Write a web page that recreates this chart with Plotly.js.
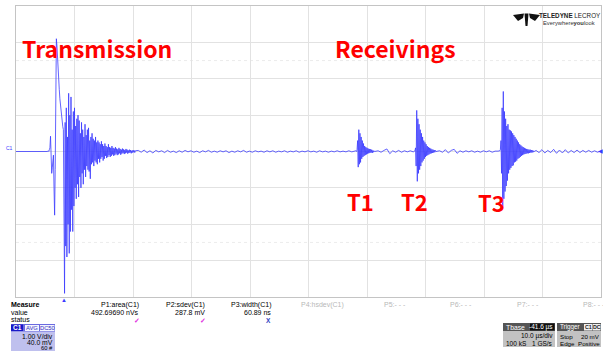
<!DOCTYPE html>
<html>
<head>
<meta charset="utf-8">
<script src="https://cdn.plot.ly/plotly-3.0.1.min.js"></script>
<style>
html,body{margin:0;padding:0;background:#fff;}
#chart{width:603px;height:351px;}
</style>
</head>
<body>
<div id="chart"></div>
<script>
// ---- Data (time in µs, voltage in V) ----
// Each record: start time, sampling step, sampled voltages
const preStart = -8.4, preStep = 0.6;
const preV = [0, 0, 0.01, 0, -0.01, 0, 0.01, 0, 0];

const burstStart = -3.0, burstStep = 0.1;
const burstV = [
  0, 0.02, 0, 0.05, 0.1, 0.42, -0.2, -0.6, -0.45, -0.3,
  -0.1, -1.0, -1.75, -0.5, 1.5, 3.1, 2.9, 2.5, 2.2, 1.95,
  1.7, 1.45, 1.25, 1.05, 0.9, 0.78, 0.68, 0.6, -1.5, -3.9,
  0.8, -2.6, 1.2, -2.9, 0.4, -2.0, 1.6, -2.8, 1.0, -2.2,
  1.5, -1.6, 0.6, -2.2, 1.1, -1.5, 1.2, -1.0, 0.7, -1.3,
  0.9, -0.9, 1.0, -1.25, 0.85, -0.7, 0.5, -1.0, 0.8, -0.6,
  0.6, -0.9, 0.4, -0.5, 0.75, -0.7, 0.45, -0.4, 0.6, -0.5,
  0.65, -0.55, 0.3, -0.75, 0.4, -0.35, 0.5, -0.3, 0.35, -0.4,
  0.3, -0.25, 0.4, -0.3, 0.25, -0.35, 0.3, -0.2, 0.25, -0.3,
  0.2, -0.2, 0.28, -0.15, 0.2, -0.25, 0.15, -0.2, 0.22, -0.12,
  0.15, -0.18, 0.12, -0.15, 0.2, -0.1, 0.12, -0.15, 0.1, -0.12,
  0.15, -0.08, 0.1, -0.12, 0.08, -0.1, 0.12, -0.06, 0.08, -0.1,
  0.06, -0.08, 0.1, -0.05, 0.07, -0.09, 0.05, -0.06, 0.08, -0.04,
  0.06, -0.07, 0.04, -0.05, 0.07, -0.03, 0.05, -0.06, 0.03, -0.04,
  0.05, -0.03, 0.04, -0.05, 0.02, -0.03, 0.04, -0.02, 0.03, -0.03,
  0.02
];

const quiet1Start = 12.5, quiet1Step = 0.5;
const quiet1V = [
  0.03, -0.02, 0.04, -0.03, 0.02, -0.04, 0.03, -0.01, 0.02, -0.03,
  0.03, -0.02, 0.01, -0.03, 0.02, -0.02, 0.03, -0.01, 0.02, -0.02,
  0.01, -0.03, 0.02, -0.01, 0.03, -0.02, 0.01, -0.02, 0.02, -0.01,
  0.02, -0.03, 0.01, -0.02, 0.02, -0.01, 0.03, -0.02, 0.01, -0.02,
  0.02, -0.01, 0.01, -0.02, 0.02, -0.01, 0.02, -0.02, 0.01, -0.01,
  0.02, -0.02, 0.01, -0.01, 0.02, -0.02, 0.01, -0.01, 0.02, -0.01,
  0.01, -0.02, 0.02, -0.01, 0.01, -0.02, 0.01, -0.01, 0.02, -0.01,
  0.01, -0.01, 0.02, -0.01, 0.01
];

const t1Start = 49.6, t1Step = 0.1;
const t1V = [
  0.01, 0.02, 0.0, 0.05, 0.3, -0.43, 0.6, -0.35, 0.5, -0.3,
  0.4, -0.2, 0.3, -0.15, 0.22, -0.12, 0.15, -0.1, 0.12, -0.08,
  0.1, -0.06, 0.08, -0.05, 0.07, -0.04, 0.06, -0.03, 0.05, -0.04,
  0.03, -0.02, 0.02, 0.0
];

const quiet2Start = 53.5, quiet2Step = 0.5;
const quiet2V = [0.02, -0.02, 0.03, 0.07, -0.06, 0.02, -0.02, 0.03, -0.02, 0.02, -0.01, 0.02, -0.01];

const t2Start = 59.7, t2Step = 0.1;
const t2V = [
  0.01, 0.02, 0.1, -0.4, 1.13, -0.82, 0.9, -0.6, 0.75, -0.5,
  0.6, -0.4, 0.5, -0.3, 0.4, -0.25, 0.3, -0.2, 0.25, -0.15,
  0.2, -0.12, 0.15, -0.1, 0.12, -0.08, 0.1, -0.06, 0.08, -0.05,
  0.06, -0.04, 0.05, -0.03, 0.04, -0.02, 0.03, 0.0
];

const quiet3Start = 64.0, quiet3Step = 0.5;
const quiet3V = [0.02, -0.02, 0.05, -0.04, 0.03, 0.06, -0.05, 0.02, -0.02, 0.02, -0.01, 0.02, -0.02, 0.01, -0.02, 0.02, -0.01, 0.02, -0.02, 0.01, 0.01];

const t3Start = 74.3, t3Step = 0.1;
const t3V = [
  0.02, 0.05, 0.3, -0.6, 1.2, -1.57, 1.65, -1.3, 1.1, -1.1,
  0.9, -0.95, 0.7, -0.8, 0.75, -0.6, 0.6, -0.5, 0.58, -0.45,
  0.55, -0.4, 0.5, -0.38, 0.45, -0.3, 0.4, -0.28, 0.35, -0.25,
  0.3, -0.2, 0.25, -0.18, 0.2, -0.15, 0.17, -0.12, 0.14, -0.1,
  0.12, -0.08, 0.1, -0.07, 0.08, -0.06, 0.07, -0.05, 0.06, -0.05,
  0.05, -0.04, 0.05, -0.03, 0.04, -0.03, 0.03, -0.02, 0.02, 0.0
];

const quiet4Start = 80.5, quiet4Step = 0.5;
const quiet4V = [0.03, -0.03, 0.05, -0.04, 0.03, -0.03, 0.06, -0.05, 0.04, -0.04, 0.05, -0.04, 0.03, -0.03, 0.04, -0.03, 0.03, -0.02, 0.03, -0.02, 0.02, -0.02, 0.01];

const timeRange = [-8.4, 91.6];   // 10 µs/div, Tbase -41.6 µs
const voltRange = [-4, 4];        // 1.00 V/div

const measureNames = ["P1:area(C1)", "P2:sdev(C1)", "P3:width(C1)"];
const measureValues = ["492.69690 nVs", "287.8 mV", "60.89 ns"];
const emptyParams = ["P4:hsdev(C1)", "P5:- - -", "P6:- - -", "P7:- - -", "P8:- - -"];

// ---- build trace ----
const segments = [
  [preStart, preStep, preV], [burstStart, burstStep, burstV],
  [quiet1Start, quiet1Step, quiet1V], [t1Start, t1Step, t1V],
  [quiet2Start, quiet2Step, quiet2V], [t2Start, t2Step, t2V],
  [quiet3Start, quiet3Step, quiet3V], [t3Start, t3Step, t3V],
  [quiet4Start, quiet4Step, quiet4V]
];
const tx = [], vy = [];
segments.forEach(([t0, dt, vals]) => {
  vals.forEach((v, i) => { tx.push(+(t0 + i * dt).toFixed(3)); vy.push(v); });
});

// ---- layout helpers (pixel -> paper) ----
const W = 603, H = 351, ML = 16, MR = 2, MT = 6, MB = 54;
const PW = W - ML - MR, PH = H - MT - MB;
const px = x => (x - ML) / PW;
const py = y => (H - MB - y) / PH;

const annotations = [];
function txt(text, x, y, o) {
  o = o || {};
  annotations.push({
    text: text, xref: 'paper', yref: 'paper', x: px(x), y: py(y),
    xanchor: o.xa || 'left', yanchor: 'middle', showarrow: false,
    font: {family: o.family || 'Liberation Sans, Arial, sans-serif', size: o.size || 7,
           color: o.color || '#000', weight: o.weight || 'normal'},
    borderpad: 0
  });
}
const shapes = [];
function rect(x0, y0, x1, y1, fill, line) {
  shapes.push({type: 'rect', xref: 'paper', yref: 'paper', x0: px(x0), x1: px(x1), y0: py(y1), y1: py(y0),
               fillcolor: fill, line: {width: line ? 1 : 0, color: line || fill}, layer: 'above'});
}
function poly(pts, fill) {
  const d = pts.map((p, i) => (i ? 'L' : 'M') + px(p[0]) + ',' + py(p[1])).join(' ') + ' Z';
  shapes.push({type: 'path', xref: 'paper', yref: 'paper', path: d, fillcolor: fill, line: {width: 0}, layer: 'above'});
}

// faint dotted rows at +/-2.5 div
[2.5, -2.5].forEach(v => shapes.push({type: 'line', xref: 'paper', yref: 'y', x0: 0, x1: 1, y0: v, y1: v,
  line: {color: '#ececec', width: 1, dash: 'dot'}, layer: 'below'}));

// big red labels
const red = '#ff0000';
const big = 'Noto Sans CJK KR, Noto Sans, sans-serif';
txt('Transmission', 97, 47.5, {xa: 'center', size: 23, color: red, weight: 'bold', family: big});
txt('Receivings', 395, 47.5, {xa: 'center', size: 23, color: red, weight: 'bold', family: big});
txt('T1', 360.5, 200.5, {xa: 'center', size: 22, color: red, weight: 'bold', family: big});
txt('T2', 414, 200.5, {xa: 'center', size: 22, color: red, weight: 'bold', family: big});
txt('T3', 491.5, 201.5, {xa: 'center', size: 22, color: red, weight: 'bold', family: big});

// logo
poly([[513, 15], [524, 13.5], [523, 18], [518, 21]], '#111');
poly([[540, 15], [529, 13.5], [530, 18], [535, 21]], '#111');
poly([[524.5, 13.5], [528.5, 13.5], [527.5, 26], [525.5, 26]], '#111');
txt('<b>TELEDYNE</b> LECROY', 569.5, 16, {xa: 'center', size: 6.3, color: '#222'});
txt('Everywhere<b>you</b>look', 569, 23, {xa: 'center', size: 5.8, color: '#333'});

// measure panel
txt('<b>Measure</b>', 10, 304.5);
txt('value', 10, 312);
txt('status', 10, 319.5);
const mRight = [140, 205.7, 271.7];
measureNames.forEach((n, i) => { txt(n, mRight[i], 304.5, {xa: 'right'}); txt(measureValues[i], mRight[i], 312, {xa: 'right'}); });
txt('<b>✓</b>', 137, 320, {xa: 'center', size: 7, color: '#e030e0'});
txt('<b>✓</b>', 203, 320, {xa: 'center', size: 7, color: '#e030e0'});
txt('<b>X</b>', 268.5, 320, {xa: 'center', size: 6.5, color: '#3040c0'});
const eLeft = [300, 383, 449, 516, 582];
emptyParams.forEach((n, i) => txt(n, eLeft[i], 304.5, {color: '#b8b8b8'}));

// C1 box
rect(11, 324, 55, 351, '#bfc0ee');
rect(11, 324, 55, 331.5, '#6a6ae0');
rect(11, 324.5, 23, 331, '#1818c8');
rect(25, 325, 39, 331, '#f4f4ff');
rect(40, 325, 54.5, 331, '#f4f4ff');
txt('<b>C1</b>', 17, 327.8, {xa: 'center', size: 6.5, color: '#fff'});
txt('AVG', 32, 327.8, {xa: 'center', size: 5.8, color: '#3030c0'});
txt('DC50', 47.2, 327.8, {xa: 'center', size: 5.8, color: '#3030c0'});
txt('1.00 V/div', 54, 336, {xa: 'right', size: 6.8});
txt('40.0 mV', 54, 342.5, {xa: 'right', size: 6.8});
txt('60 #', 54, 347.5, {xa: 'right', size: 5.8});

// Tbase box
rect(503, 323, 555, 347, '#c2c2c2');
rect(503, 323, 555, 331, '#555555');
rect(530, 323.5, 554.5, 330.5, '#111');
txt('Tbase', 505, 327, {color: '#fff', size: 6.8});
txt('-41.6 µs', 554, 327, {xa: 'right', color: '#fff', size: 6.5});
txt('10.0 µs/div', 554, 336, {xa: 'right', size: 6.5});
txt('100 kS', 505, 343.5, {size: 6.5});
txt('1 GS/s', 554, 343.5, {xa: 'right', size: 6.5});

// Trigger box
rect(557, 323, 601, 347, '#c2c2c2');
rect(557, 323, 601, 331, '#555555');
rect(584, 324, 592, 330.5, '#f0f0f0');
rect(592.5, 324, 600.5, 330.5, '#f0f0f0');
txt('Trigger', 558.5, 327, {color: '#fff', size: 6.3});
txt('<b>C1</b>', 588, 327.3, {xa: 'center', size: 5.3, color: '#222'});
txt('<b>DC</b>', 596.5, 327.3, {xa: 'center', size: 5.3, color: '#222'});
txt('Stop', 558.5, 336, {size: 6.2});
txt('20 mV', 600.5, 336, {xa: 'right', size: 6.2});
txt('Edge', 558.5, 343.5, {size: 6.2});
txt('Positive', 600.5, 343.5, {xa: 'right', size: 6.2});

// markers
txt('C1', 9.5, 147.5, {xa: 'center', size: 5, color: '#3a3aff'});
txt('▲', 64, 300, {xa: 'center', size: 6, color: '#3a3aff'});
txt('◀', 600, 151, {xa: 'center', size: 6, color: '#3a3aff'});

const trace = {
  x: tx, y: vy, type: 'scatter', mode: 'lines',
  line: {color: 'rgba(60,60,255,0.8)', width: 1},
  hoverinfo: 'skip', cliponaxis: true
};

const gridCol = '#e2e2e2';
const layout = {
  width: W, height: H,
  margin: {l: ML, r: MR, t: MT, b: MB, pad: 0},
  paper_bgcolor: '#ffffff', plot_bgcolor: '#ffffff',
  showlegend: false,
  xaxis: {range: timeRange, tick0: -8.4, dtick: 10, showticklabels: false, ticks: '',
          showgrid: true, gridcolor: gridCol, gridwidth: 1, zeroline: false,
          showline: true, mirror: true, linecolor: '#c4c4c4', linewidth: 1, fixedrange: true},
  yaxis: {range: voltRange, dtick: 1, showticklabels: false, ticks: '',
          showgrid: true, gridcolor: gridCol, gridwidth: 1, zeroline: false,
          showline: true, mirror: true, linecolor: '#c4c4c4', linewidth: 1, fixedrange: true},
  annotations: annotations,
  shapes: shapes
};

Plotly.newPlot('chart', [trace], layout, {staticPlot: true, displayModeBar: false});
</script>
</body>
</html>
